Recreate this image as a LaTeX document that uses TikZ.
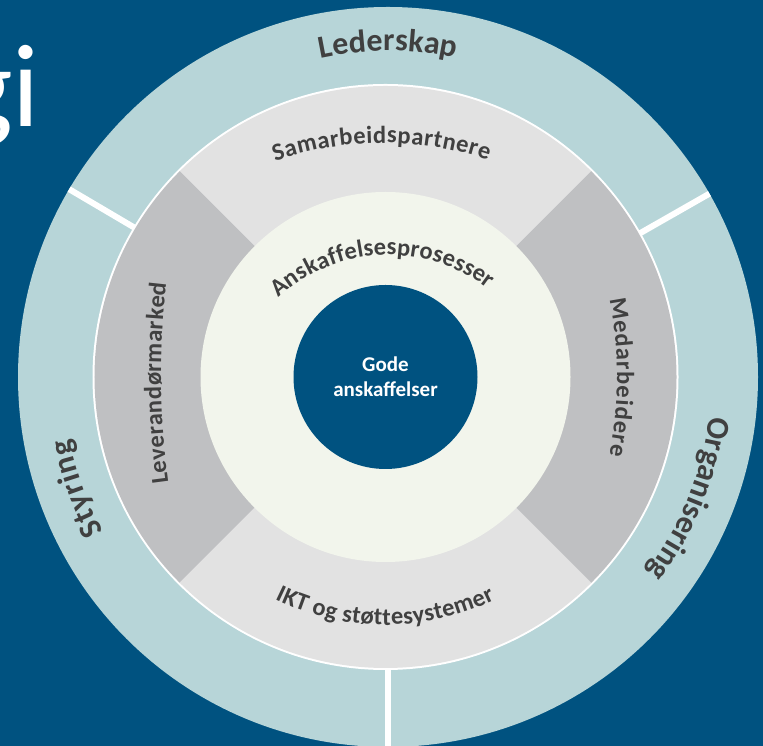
\documentclass[tikz,border=0pt]{standalone}
\usepackage{fontspec}
\setmainfont{Carlito}
\usetikzlibrary{decorations.text}
\definecolor{bgblue}{RGB}{0,82,128}
\definecolor{ringblue}{RGB}{183,213,216}
\definecolor{midlight}{RGB}{226,226,226}
\definecolor{middark}{RGB}{191,192,194}
\definecolor{innerlight}{RGB}{242,245,236}
\definecolor{txtgray}{RGB}{64,64,64}
\newcommand{\rgOuter}{\fontsize{32}{32}\selectfont\bfseries\color{txtgray}}
\newcommand{\rgMid}{\fontsize{24.5}{24.5}\selectfont\bfseries\color{txtgray}}
\tikzset{
  arctext/.style={decorate, decoration={text along path, text={#1}, text align={fit to path}}},
  gapline/.style={white, line width=6pt},
}
\begin{document}
\begin{tikzpicture}[x=1pt,y=1pt]
\useasboundingbox (0,0) rectangle (763,746);
\clip (0,0) rectangle (763,746);
\fill[bgblue] (0,0) rectangle (763,746);
\coordinate (O) at (388,369);
\coordinate (C) at (385.5,369);
% outer ring
\fill[ringblue] (O) circle[radius=370pt];
\begin{scope}
  \clip (O) circle[radius=370pt];
  \foreach \a in {149.5,29.7,270} \draw[gapline] (O) -- ++(\a:380pt);
\end{scope}
% white separator
\fill[white] (C) circle[radius=293pt];
% middle ring quadrants
\fill[midlight] (C) -- ++(45:291pt) arc[start angle=45,end angle=135,radius=291pt] -- cycle;
\fill[middark] (C) -- ++(135:291pt) arc[start angle=135,end angle=225,radius=291pt] -- cycle;
\fill[midlight] (C) -- ++(225:291pt) arc[start angle=225,end angle=315,radius=291pt] -- cycle;
\fill[middark] (C) -- ++(315:291pt) arc[start angle=315,end angle=405,radius=291pt] -- cycle;
% inner
\fill[innerlight] (C) circle[radius=185pt];
\fill[bgblue] (C) circle[radius=92pt];
% centre text
\node[align=center, text=white, inner sep=0, font=\bfseries\fontsize{21}{25}\selectfont] (gode) at (C) {Gode\\anskaffelser};
% title fragment
\node[anchor=base east, inner sep=0, text=white, font=\fontsize{118}{118}\selectfont] (gi) at (40,619) {gi};
% outer ring texts
\path[arctext={|\rgOuter|Lederskap}] (O) ++(102:326pt) arc[start angle=102,end angle=78,radius=326pt];
\path[arctext={|\rgOuter|Styring}] (O) ++(208.5:324pt) arc[start angle=208.5,end angle=191,radius=324pt];
\path[arctext={|\rgOuter|Organisering}] (O) ++(-7:324pt) arc[start angle=-7,end angle=-37,radius=324pt];
% middle ring texts
\coordinate (cSam) at (383,273);
\path[arctext={|\rgMid|Samarbeidspartnere}] (cSam) ++(109.1:330pt) arc[start angle=109.1,end angle=71.45,radius=330pt];
\coordinate (cLev) at (961,371);
\path[arctext={|\rgMid|Leverandørmarked}] (cLev) ++(187.76:800pt) arc[start angle=187.76,end angle=173.4,radius=800pt];
\coordinate (cMed) at (217,369);
\path[arctext={|\rgMid|Medarbeidere}] (cMed) ++(11.2:400pt) arc[start angle=11.2,end angle=-11.3,radius=400pt];
\coordinate (cIKT) at (385,372);
\path[arctext={|\rgMid|IKT og støttesystemer}] (cIKT) ++(244:251pt) arc[start angle=244,end angle=296,radius=251pt];
% inner circle text
\coordinate (cAns) at (388.5,328);
\path[arctext={|\rgMid|Anskaffelsesprosesser}] (cAns) ++(132.5:163pt) arc[start angle=132.5,end angle=52.5,radius=163pt];
\end{tikzpicture}
\end{document}
